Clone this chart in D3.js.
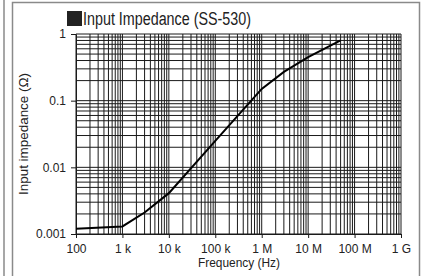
<!DOCTYPE html>
<html>
<head>
<meta charset="utf-8">
<script src="https://cdn.jsdelivr.net/npm/d3@7"></script>
<style>
  body { margin: 0; background: #fff; }
  svg text { font-family: "Liberation Sans Narrow", "Liberation Sans", Arial, sans-serif; fill: #222; }
</style>
</head>
<body>
<div id="chart"></div>
<script>
// curve
var freqs = [100, 1000, 3000, 10000, 100000, 1000000, 3000000, 10000000, 50000000];
var impedance = [0.0012, 0.0013, 0.0021, 0.0041, 0.025, 0.15, 0.27, 0.45, 0.8];

var xTicks = [1e2, 1e3, 1e4, 1e5, 1e6, 1e7, 1e8, 1e9];
var xTickLabels = ["100", "1 k", "10 k", "100 k", "1 M", "10 M", "100 M", "1 G"];
var yTicks = [0.001, 0.01, 0.1, 1];
var yTickLabels = ["0.001", "0.01", "0.1", "1"];

var W = 428, H = 276;
var plotL = 76, plotR = 401, plotT = 34, plotB = 234;

var svg = d3.select("#chart").append("svg")
  .attr("width", W).attr("height", H);

// frame
svg.append("line").attr("x1", 4).attr("x2", 4).attr("y1", 0).attr("y2", H)
  .attr("stroke", "#8a8a8a").attr("stroke-width", 1.5);
svg.append("path").attr("d", "M12.5," + H + "V2.5H419.5V" + H)
  .attr("fill", "none").attr("stroke", "#8a8a8a").attr("stroke-width", 1.5);

var x = d3.scaleLog().domain([1e2, 1e9]).range([plotL, plotR]);
var y = d3.scaleLog().domain([0.001, 1]).range([plotB, plotT]);

// minor + major grid
var xGrid = [], yGrid = [];
for (var d = 2; d < 9; d++) {
  for (var m = 1; m <= 9; m++) xGrid.push(m * Math.pow(10, d));
}
xGrid.push(1e9);
for (var e = -3; e < 0; e++) {
  for (var m = 1; m <= 9; m++) yGrid.push(m * Math.pow(10, e));
}
yGrid.push(1);

var grid = svg.append("g").attr("stroke", "#1a1a1a").attr("stroke-width", 1);
grid.selectAll(".vx").data(xGrid).enter().append("line")
  .attr("x1", function(d) { return x(d); })
  .attr("x2", function(d) { return x(d); })
  .attr("y1", plotT).attr("y2", plotB);
grid.selectAll(".hy").data(yGrid).enter().append("line")
  .attr("x1", plotL).attr("x2", plotR)
  .attr("y1", function(d) { return y(d); })
  .attr("y2", function(d) { return y(d); });

// axes
var xAxis = d3.axisBottom(x).tickValues(xTicks)
  .tickFormat(function(d, i) { return xTickLabels[i]; })
  .tickSizeInner(4).tickSizeOuter(0).tickPadding(6);
var gx = svg.append("g").attr("transform", "translate(0," + plotB + ")").call(xAxis);

var yAxis = d3.axisLeft(y).tickValues(yTicks)
  .tickFormat(function(d, i) { return yTickLabels[i]; })
  .tickSizeInner(5).tickSizeOuter(0).tickPadding(5);
var gy = svg.append("g").attr("transform", "translate(" + plotL + ",0)").call(yAxis);

[gx, gy].forEach(function(g) {
  g.select(".domain").attr("stroke", "#1a1a1a");
  g.selectAll(".tick line").attr("stroke", "#1a1a1a");
  g.selectAll("text").style("font-family", "'Liberation Sans', Arial, sans-serif")
    .style("font-size", "12px").attr("fill", "#222");
});

// curve
var line = d3.line()
  .x(function(d) { return x(d[0]); })
  .y(function(d) { return y(d[1]); });
svg.append("path")
  .datum(d3.zip(freqs, impedance))
  .attr("d", line)
  .attr("fill", "none").attr("stroke", "#000").attr("stroke-width", 2);

// title
svg.append("rect").attr("x", 67).attr("y", 11).attr("width", 15).attr("height", 15)
  .attr("fill", "#222");
svg.append("text").attr("x", 83).attr("y", 25)
  .attr("textLength", 168).attr("lengthAdjust", "spacingAndGlyphs")
  .style("font-size", "18px").attr("fill", "#444")
  .text("Input Impedance (SS-530)");

// axis titles
svg.append("text")
  .attr("transform", "translate(28," + ((plotT + plotB) / 2) + ") rotate(-90)")
  .attr("text-anchor", "middle")
  .attr("textLength", 122).attr("lengthAdjust", "spacingAndGlyphs")
  .style("font-size", "12px")
  .text("Input impedance (Ω)");

svg.append("text")
  .attr("x", 239).attr("y", 267)
  .attr("text-anchor", "middle")
  .attr("textLength", 82).attr("lengthAdjust", "spacingAndGlyphs")
  .style("font-size", "12px")
  .text("Frequency (Hz)");
</script>
</body>
</html>
